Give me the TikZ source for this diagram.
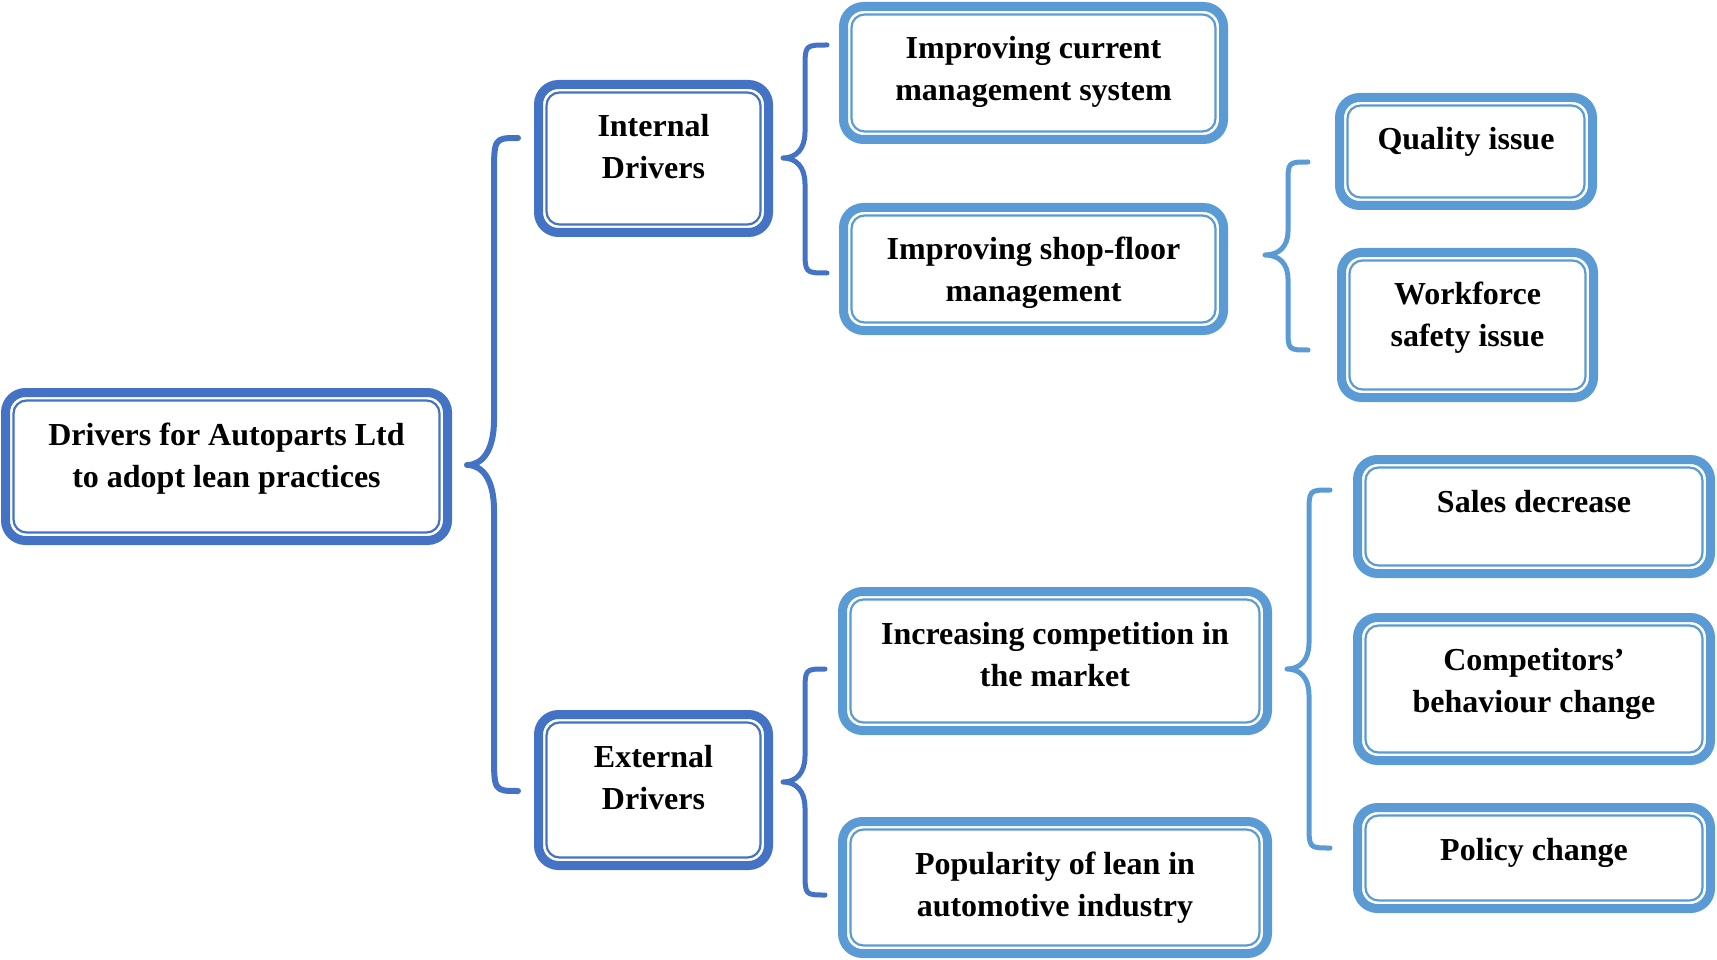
\documentclass[tikz,border=0pt]{standalone}
\usepackage{fontspec}
\setmainfont{Liberation Serif}
\definecolor{dkblue}{HTML}{4472C4}
\definecolor{ltblue}{HTML}{5B9BD5}

\tikzset{
  outerbox/.style={draw=#1, line width=9pt, rounded corners=20pt,
    inner sep=0pt, outer sep=0pt, fill=white},
  innerline/.style={draw=#1, line width=2.2pt, rounded corners=13pt},
  lbl/.style={font=\bfseries\fontsize{32}{42}\selectfont, inner sep=0pt, anchor=base},
  bracket/.style={draw=#1, line width=5pt, line cap=round, line join=round},
}

% double-framed box given by its outer edges: name, x1, y1, x2, y2, colour, text
\newcommand\tbox[7]{%
  \pgfmathsetmacro\tbW{#4-#2-9}%
  \pgfmathsetmacro\tbH{#5-#3-9}%
  \node[outerbox=#6, minimum width=\tbW pt, minimum height=\tbH pt]
    (#1) at ({(#2+#4)/2},{(#3+#5)/2}) {};
  \draw[innerline=#6] ([shift={(8,8)}]#1.north west) rectangle ([shift={(-8,-8)}]#1.south east);
  \node[lbl] (#1-text) at ({(#2+#4)/2},{#3+57}) {\begin{tabular}[t]{@{}c@{}}#7\end{tabular}};
}

% curly bracket: style, tip x, tip y, spine x, end x, top y, bottom y, end radius, tip radius
\newcommand\curlyb[9]{%
  \draw[#1]
    (#5,#6) .. controls (#4,#6) .. (#4,{#6+#8})
    -- (#4,{#3-#9}) .. controls (#4,{#3-0.35*#9}) and ({#4-0.4*(#4-#2)},#3) .. (#2,#3)
    .. controls ({#4-0.4*(#4-#2)},#3) and (#4,{#3+0.35*#9}) .. (#4,{#3+#9})
    -- (#4,{#7-#8}) .. controls (#4,#7) .. (#5,#7);
}

\begin{document}
\begin{tikzpicture}[x=1pt,y=-1pt]
  \useasboundingbox (0,0) rectangle (1717,960);

  % level 1 and 2
  \tbox{root}{1}{388}{452}{545}{dkblue}{Drivers for Autoparts Ltd\\to adopt lean practices}
  \tbox{internal}{534}{80}{773}{237}{dkblue}{Internal\\Drivers}
  \tbox{external}{534}{710}{773}{870}{dkblue}{External\\Drivers}

  % internal drivers
  \tbox{current}{839}{2}{1228}{144}{ltblue}{Improving current\\management system}
  \tbox{shopfloor}{839}{203}{1228}{335}{ltblue}{Improving shop-floor\\management}
  \tbox{quality}{1335}{93}{1597}{210}{ltblue}{Quality issue}
  \tbox{workforce}{1337}{248}{1598}{402}{ltblue}{Workforce\\safety issue}

  % external drivers
  \tbox{competition}{838}{587}{1272}{735}{ltblue}{Increasing competition in\\the market}
  \tbox{popularity}{838}{817}{1272}{958}{ltblue}{Popularity of lean in\\automotive industry}
  \tbox{sales}{1353}{455}{1715}{578}{ltblue}{Sales decrease}
  \tbox{competitors}{1353}{613}{1715}{765}{ltblue}{Competitors’\\behaviour change}
  \tbox{policy}{1353}{803}{1715}{913}{ltblue}{Policy change}

  % brackets
  \curlyb{bracket=dkblue, line width=6pt}{467}{465}{494}{518}{138}{791}{38}{45}
  \curlyb{bracket=dkblue}{783}{158}{805}{827}{45}{273}{24}{26}
  \curlyb{bracket=dkblue}{783}{782}{805}{825}{669}{895}{24}{26}
  \curlyb{bracket=ltblue}{1265}{255}{1288}{1308}{162}{350}{22}{24}
  \curlyb{bracket=ltblue}{1287}{669}{1309}{1330}{490}{848}{24}{26}
\end{tikzpicture}
\end{document}
